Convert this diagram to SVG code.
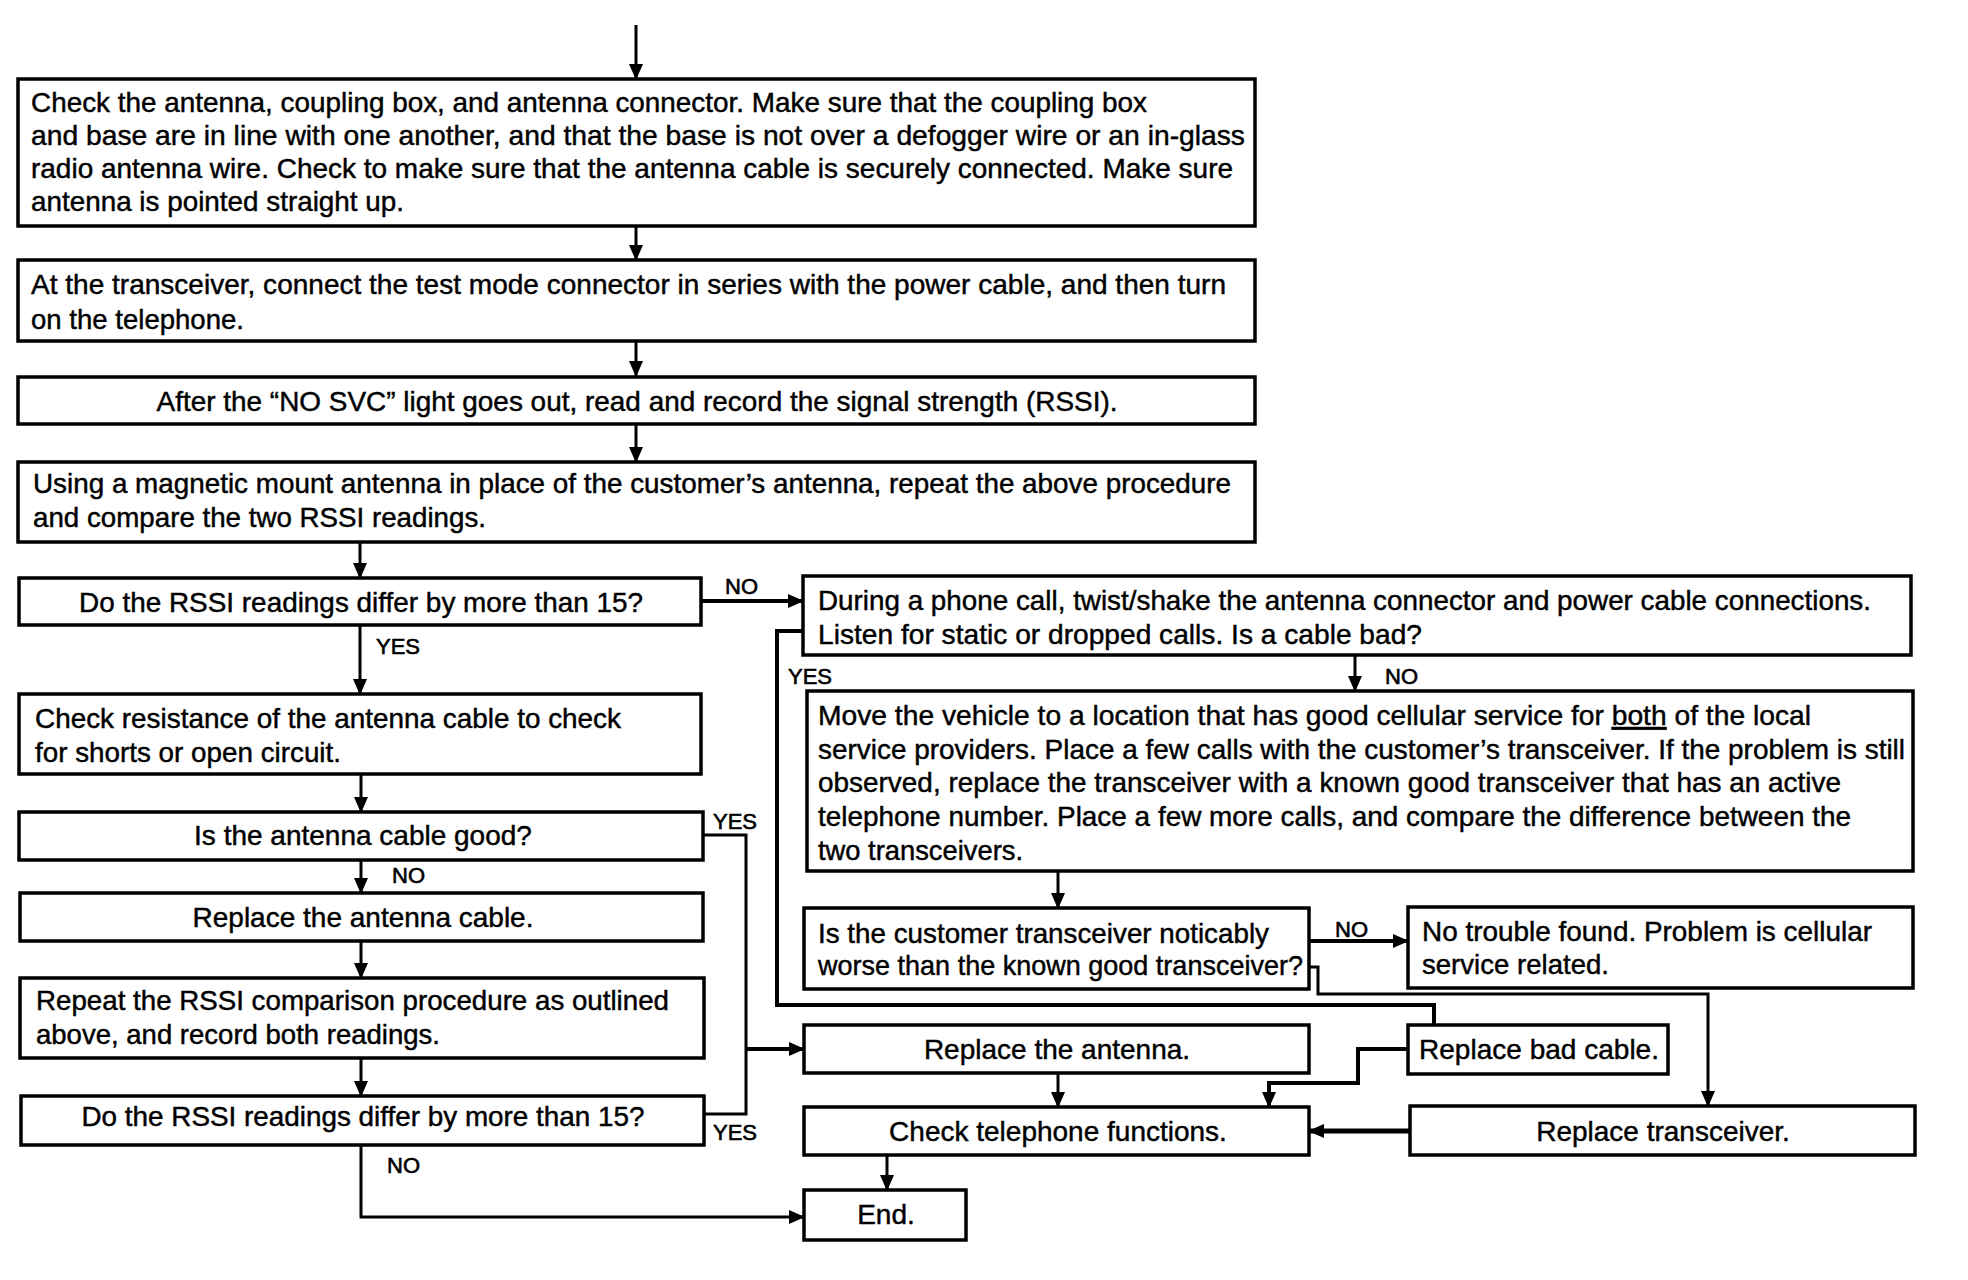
<svg xmlns="http://www.w3.org/2000/svg" width="1968" height="1280" viewBox="0 0 1968 1280">
<style>
.box{fill:#fff;stroke:#000;stroke-width:3.5}
.t{font-family:"Liberation Sans",Arial,Helvetica,sans-serif;font-size:28px;fill:#000;stroke:#000;stroke-width:0.45}
.c{text-anchor:middle}
.lb{font-family:"Liberation Sans",Arial,Helvetica,sans-serif;font-size:22px;fill:#000;stroke:#000;stroke-width:0.6}
.ln{fill:none;stroke:#000;stroke-width:3}
.ar{marker-end:url(#ah)}
</style>
<defs>
<marker id="ah" viewBox="0 0 16 14" refX="15" refY="7" markerWidth="16" markerHeight="14" markerUnits="userSpaceOnUse" orient="auto">
<path d="M0,0 L16,7 L0,14 z" fill="#000"/>
</marker>
</defs>
<rect width="1968" height="1280" fill="#fff"/>

<g id="connectors">
<path class="ln ar" d="M636,25 V79"/>
<path class="ln ar" d="M636,226 V260"/>
<path class="ln ar" d="M636,340 V376"/>
<path class="ln ar" d="M636,423 V462"/>
<path class="ln ar" d="M360,542 V578"/>
<path class="ln ar" d="M701,601 H803" style="stroke-width:4"/>
<path class="ln ar" d="M360,625 V694"/>
<path class="ln ar" d="M361,774 V812"/>
<path class="ln" d="M703,835 H746 V1114 H704"/>
<path class="ln ar" d="M746,1049 H804" style="stroke-width:4"/>
<path class="ln ar" d="M361,860 V893"/>
<path class="ln ar" d="M361,941 V978"/>
<path class="ln ar" d="M361,1058 V1096"/>
<path class="ln ar" d="M361,1145 V1217 H804"/>
<path class="ln" d="M803,631 H777 V1005 H1434 V1025" style="stroke-width:4"/>
<path class="ln ar" d="M1355,655 V691"/>
<path class="ln ar" d="M1058,871 V908"/>
<path class="ln ar" d="M1309,941 H1408" style="stroke-width:4"/>
<path class="ln ar" d="M1309,967 H1318 V994 H1708 V1106"/>
<path class="ln ar" d="M1408,1049 H1358 V1083 H1269 V1107" style="stroke-width:4"/>
<path class="ln ar" d="M1058,1073 V1107"/>
<path class="ln ar" d="M1410,1131 H1309" style="stroke-width:5"/>
<path class="ln ar" d="M887,1155 V1190"/>
<text class="lb" x="725" y="594">NO</text>
<text class="lb" x="376" y="654">YES</text>
<text class="lb" x="713" y="829">YES</text>
<text class="lb" x="392" y="883">NO</text>
<text class="lb" x="713" y="1140">YES</text>
<text class="lb" x="387" y="1173">NO</text>
<text class="lb" x="788" y="684">YES</text>
<text class="lb" x="1385" y="684">NO</text>
<text class="lb" x="1335" y="937">NO</text>
</g>

<g id="n1">
<rect class="box" x="18" y="79" width="1237" height="147"/>
<text class="t" x="31" y="112" textLength="1116" lengthAdjust="spacingAndGlyphs">Check the antenna, coupling box, and antenna connector. Make sure that the coupling box</text>
<text class="t" x="31" y="145" textLength="1214" lengthAdjust="spacingAndGlyphs">and base are in line with one another, and that the base is not over a defogger wire or an in-glass</text>
<text class="t" x="31" y="178" textLength="1202" lengthAdjust="spacingAndGlyphs">radio antenna wire. Check to make sure that the antenna cable is securely connected. Make sure</text>
<text class="t" x="31" y="211" textLength="373" lengthAdjust="spacingAndGlyphs">antenna is pointed straight up.</text>
</g>

<g id="n2">
<rect class="box" x="18" y="260" width="1237" height="81"/>
<text class="t" x="31" y="294" textLength="1195" lengthAdjust="spacingAndGlyphs">At the transceiver, connect the test mode connector in series with the power cable, and then turn</text>
<text class="t" x="31" y="329" textLength="213" lengthAdjust="spacingAndGlyphs">on the telephone.</text>
</g>

<g id="n3">
<rect class="box" x="18" y="377" width="1237" height="47"/>
<text class="t c" x="637" y="411" textLength="961" lengthAdjust="spacingAndGlyphs">After the “NO SVC” light goes out, read and record the signal strength (RSSI).</text>
</g>

<g id="n4">
<rect class="box" x="18" y="462" width="1237" height="80"/>
<text class="t" x="33" y="493" textLength="1198" lengthAdjust="spacingAndGlyphs">Using a magnetic mount antenna in place of the customer’s antenna, repeat the above procedure</text>
<text class="t" x="33" y="527" textLength="453" lengthAdjust="spacingAndGlyphs">and compare the two RSSI readings.</text>
</g>

<g id="n5">
<rect class="box" x="19" y="578" width="682" height="47"/>
<text class="t c" x="361" y="612" textLength="564" lengthAdjust="spacingAndGlyphs">Do the RSSI readings differ by more than 15?</text>
</g>

<g id="n6">
<rect class="box" x="19" y="694" width="682" height="80"/>
<text class="t" x="35" y="728" textLength="586" lengthAdjust="spacingAndGlyphs">Check resistance of the antenna cable to check</text>
<text class="t" x="35" y="762" textLength="306" lengthAdjust="spacingAndGlyphs">for shorts or open circuit.</text>
</g>

<g id="n7">
<rect class="box" x="19" y="812" width="684" height="48"/>
<text class="t c" x="363" y="845">Is the antenna cable good?</text>
</g>

<g id="n8">
<rect class="box" x="20" y="893" width="683" height="48"/>
<text class="t c" x="363" y="927">Replace the antenna cable.</text>
</g>

<g id="n9">
<rect class="box" x="20" y="978" width="684" height="80"/>
<text class="t" x="36" y="1010" textLength="633" lengthAdjust="spacingAndGlyphs">Repeat the RSSI comparison procedure as outlined</text>
<text class="t" x="36" y="1044" textLength="404" lengthAdjust="spacingAndGlyphs">above, and record both readings.</text>
</g>

<g id="n10">
<rect class="box" x="21" y="1096" width="683" height="49"/>
<text class="t c" x="363" y="1126" textLength="563" lengthAdjust="spacingAndGlyphs">Do the RSSI readings differ by more than 15?</text>
</g>

<g id="n11">
<rect class="box" x="803" y="576" width="1108" height="79"/>
<text class="t" x="818" y="610" textLength="1053" lengthAdjust="spacingAndGlyphs">During a phone call, twist/shake the antenna connector and power cable connections.</text>
<text class="t" x="818" y="644" textLength="604" lengthAdjust="spacingAndGlyphs">Listen for static or dropped calls. Is a cable bad?</text>
</g>

<g id="n12">
<rect class="box" x="807" y="691" width="1106" height="180"/>
<text class="t" x="818" y="725" textLength="993" lengthAdjust="spacingAndGlyphs">Move the vehicle to a location that has good cellular service for <tspan text-decoration="underline">both</tspan> of the local</text>
<text class="t" x="818" y="759" textLength="1087" lengthAdjust="spacingAndGlyphs">service providers. Place a few calls with the customer’s transceiver. If the problem is still</text>
<text class="t" x="818" y="792" textLength="1023" lengthAdjust="spacingAndGlyphs">observed, replace the transceiver with a known good transceiver that has an active</text>
<text class="t" x="818" y="826" textLength="1033" lengthAdjust="spacingAndGlyphs">telephone number. Place a few more calls, and compare the difference between the</text>
<text class="t" x="818" y="860" textLength="205" lengthAdjust="spacingAndGlyphs">two transceivers.</text>
</g>

<g id="n13">
<rect class="box" x="804" y="908" width="505" height="81"/>
<text class="t" x="818" y="943" textLength="451" lengthAdjust="spacingAndGlyphs">Is the customer transceiver noticably</text>
<text class="t" x="818" y="975" textLength="485" lengthAdjust="spacingAndGlyphs">worse than the known good transceiver?</text>
</g>

<g id="n14">
<rect class="box" x="1408" y="907" width="505" height="81"/>
<text class="t" x="1422" y="941" textLength="450" lengthAdjust="spacingAndGlyphs">No trouble found. Problem is cellular</text>
<text class="t" x="1422" y="974" textLength="187" lengthAdjust="spacingAndGlyphs">service related.</text>
</g>

<g id="n15">
<rect class="box" x="804" y="1025" width="505" height="48"/>
<text class="t c" x="1057" y="1059">Replace the antenna.</text>
</g>

<g id="n16">
<rect class="box" x="1408" y="1025" width="260" height="49"/>
<text class="t c" x="1539" y="1059" textLength="240" lengthAdjust="spacingAndGlyphs">Replace bad cable.</text>
</g>

<g id="n17">
<rect class="box" x="804" y="1107" width="505" height="48"/>
<text class="t c" x="1058" y="1141">Check telephone functions.</text>
</g>

<g id="n18">
<rect class="box" x="1410" y="1106" width="505" height="49"/>
<text class="t c" x="1663" y="1141">Replace transceiver.</text>
</g>

<g id="n19">
<rect class="box" x="804" y="1190" width="162" height="50"/>
<text class="t c" x="886" y="1224">End.</text>
</g>
</svg>
